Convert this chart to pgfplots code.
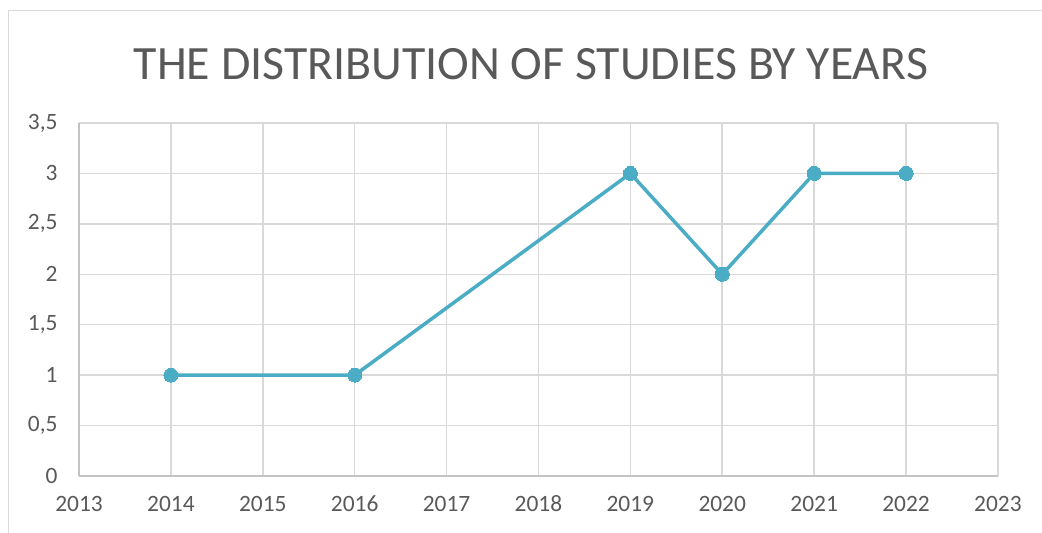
\documentclass[border=0pt]{standalone}
\usepackage{pgfplots}
\pgfplotsset{compat=1.18}
\usepackage{fontspec}
\setmainfont{Carlito}
\definecolor{serie}{HTML}{4BACC6}
\definecolor{gridc}{HTML}{D9D9D9}
\definecolor{txt}{HTML}{595959}
\begin{document}
\begin{tikzpicture}[x=1bp,y=1bp]
\path[use as bounding box] (0,0) rectangle (1042,533);
\draw[gridc,line width=1bp] (8.5,0) -- (8.5,522.5) -- (1042,522.5);
\node[txt,font=\fontsize{48}{56}\selectfont] at (531,469) {THE DISTRIBUTION OF STUDIES BY YEARS};
\begin{axis}[at={(79bp,57bp)},anchor=south west,scale only axis,
width=919bp,height=353bp,
xmin=2013,xmax=2023,ymin=0,ymax=3.5,
xtick={2013,...,2023},ytick={0,0.5,...,3.5},
grid=major,grid style={gridc,line width=1.5bp},
axis line style={gridc!90!black,line width=1.5bp},
axis x line*=bottom,axis y line*=left,
tick style={draw=none},
tick label style={txt,font=\fontsize{23.5}{27}\selectfont},
/pgf/number format/assume math mode=true,
xticklabel style={/pgf/number format/1000 sep={},text height=16bp,text depth=0bp,yshift=-16bp},
yticklabel style={/pgf/number format/.cd,use comma,fixed,/tikz/.cd,xshift=-18bp},
clip=false]
\addplot[serie,line width=3.5bp,mark=*,mark size=7bp,mark options={fill=serie,draw=serie,line width=0pt}]
coordinates {(2014,1)(2016,1)(2019,3)(2020,2)(2021,3)(2022,3)};
\end{axis}
\end{tikzpicture}
\end{document}
